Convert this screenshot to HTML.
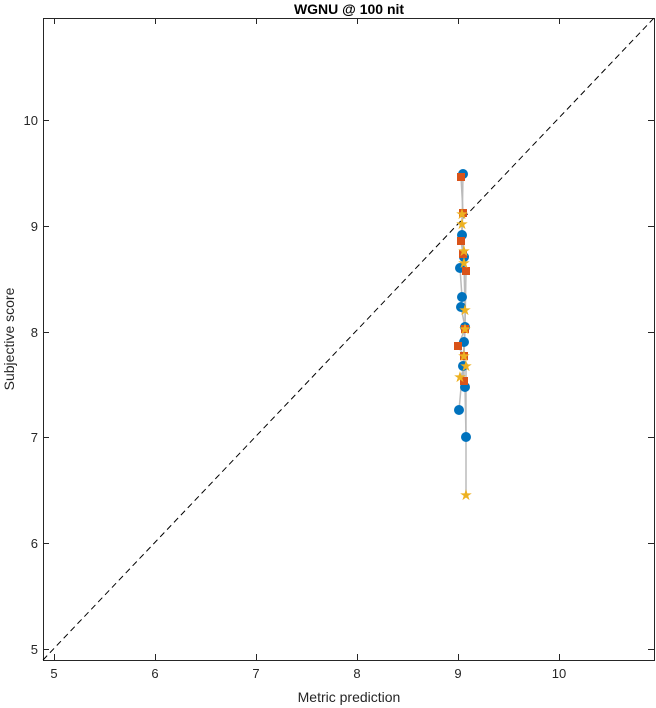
<!DOCTYPE html><html><head><style>body{margin:0;background:#fff}svg{display:block;font-family:"Liberation Sans",sans-serif}</style></head><body>
<svg width="656" height="708" viewBox="0 0 656 708">
<rect x="43.5" y="18.5" width="611" height="642" fill="#fff" stroke="#262626"/>
<g stroke="#262626">
<path d="M54.5 660v-6M155.5 660v-6M256.5 660v-6M357.5 660v-6M458.5 660v-6M559.5 660v-6M54.5 18v6M155.5 18v6M256.5 18v6M357.5 18v6M458.5 18v6M559.5 18v6"/>
<path d="M43 649.5h6M43 543.5h6M43 437.5h6M43 332.5h6M43 226.5h6M43 120.5h6M654 649.5h-6M654 543.5h-6M654 437.5h-6M654 332.5h-6M654 226.5h-6M654 120.5h-6"/>
</g>
<g font-size="13" fill="#262626" text-anchor="middle">
<text x="54" y="678">5</text><text x="155" y="678">6</text><text x="256" y="678">7</text><text x="357" y="678">8</text><text x="458" y="678">9</text><text x="559" y="678">10</text>
</g>
<g font-size="13" fill="#262626" text-anchor="end">
<text x="38" y="654">5</text><text x="38" y="548">6</text><text x="38" y="442">7</text><text x="38" y="337">8</text><text x="38" y="231">9</text><text x="38" y="125">10</text>
</g>
<text x="349" y="702" font-size="14" fill="#262626" text-anchor="middle">Metric prediction</text>
<text transform="translate(14 339) rotate(-90)" font-size="14" fill="#262626" text-anchor="middle">Subjective score</text>
<text x="349" y="14" font-size="14" font-weight="bold" fill="#000" text-anchor="middle">WGNU @ 100 nit</text>
<line x1="43" y1="660" x2="654" y2="18" stroke="#000" stroke-dasharray="6,4"/>
<g stroke="#bbb" fill="none" stroke-width="1.5">
<polyline points="463,174 462,235 464,257 460,268 462,297 461,307 465,327 464,342 463,366 459,410"/>
<polyline points="463,366 465,387 466,437"/>
<polyline points="461,177 463,213 461,241 463,254 466,271 465,329 458,346 464,356 464,381"/>
<polyline points="462,214 462,224 464,251 464,263 465,310 465,329 464,356 466,366 460,377"/>
<polyline points="466,366 466,495"/>
</g>
<g fill="#0072bd">
<circle cx="463" cy="174" r="5"/><circle cx="462" cy="235" r="5"/><circle cx="464" cy="257" r="5"/><circle cx="460" cy="268" r="5"/><circle cx="462" cy="297" r="5"/><circle cx="461" cy="307" r="5"/><circle cx="465" cy="327" r="5"/><circle cx="464" cy="342" r="5"/><circle cx="463" cy="366" r="5"/><circle cx="459" cy="410" r="5"/><circle cx="465" cy="387" r="5"/><circle cx="466" cy="437" r="5"/>
</g>
<g fill="#d95319">
<rect x="457" y="173" width="8" height="8"/><rect x="459" y="209" width="8" height="8"/><rect x="457" y="237" width="8" height="8"/><rect x="459" y="250" width="8" height="8"/><rect x="462" y="267" width="8" height="8"/><rect x="461" y="325" width="8" height="8"/><rect x="454" y="342" width="8" height="8"/><rect x="460" y="352" width="8" height="8"/><rect x="460" y="377" width="8" height="8"/>
</g>
<g fill="#edb120" font-size="15" text-anchor="middle">
<text x="462" y="219">★</text><text x="462" y="229">★</text><text x="464" y="256">★</text><text x="464" y="268">★</text><text x="465" y="315">★</text><text x="465" y="334">★</text><text x="464" y="361">★</text><text x="466" y="371">★</text><text x="460" y="382">★</text><text x="466" y="500">★</text>
</g>
</svg></body></html>
